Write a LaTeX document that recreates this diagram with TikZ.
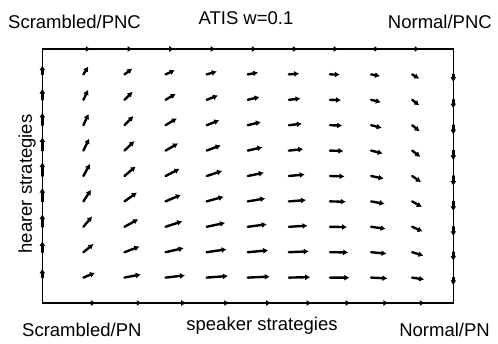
\documentclass[tikz,border=0pt]{standalone}
\usepackage{fontspec}
\setmainfont{Liberation Sans}
\usetikzlibrary{arrows.meta}

\begin{document}
\begin{tikzpicture}[x=1pt,y=1pt,
  frame/.style={line width=1.4pt},
  vec/.style={line width=2.4pt,line cap=round,-{Latex[length=5pt,width=6pt]}},
  lbl/.style={font=\fontsize{18.5}{21}\selectfont,inner sep=0pt}]
  \useasboundingbox[fill=white] (0,0) rectangle (498,343);

  % phase-plane frame (speaker share on x, hearer share on y)
  \draw[frame] (42.3,40) rectangle (453.3,294);

  % replicator field on an 11 x 11 grid
  \foreach \i in {0,...,10}{
    \foreach \j in {0,...,10}{
      \pgfmathsetmacro\p{\i/10}
      \pgfmathsetmacro\q{\j/10}
      \pgfmathsetmacro\u{\p*(1-\p)*(1.53-1.3*\q)}
      \pgfmathsetmacro\v{\q*(1-\q)*(0.68-\p)}
      \pgfmathsetmacro\m{sqrt(\u*\u+\v*\v)}
      \ifdim \m pt > 0.001pt
        \pgfmathsetmacro\L{6.5+44*\m}
        \pgfmathsetmacro\X{42.3+41.1*\i}
        \pgfmathsetmacro\Y{40+25.4*\j}
        \draw[vec] (\X,\Y) -- ++({\L*\u/\m},{\L*\v/\m});
      \fi
    }
  }

  % corner, title and axis labels
  \node[lbl,anchor=west] (sc) at (8,321) {Scrambled/PNC};
  \node[lbl] (title) at (246,325) {ATIS w=0.1};
  \node[lbl,anchor=east] (np) at (492,321) {Normal/PNC};
  \node[lbl,anchor=west] (sp) at (22,13) {Scrambled/PN};
  \node[lbl] (xl) at (262,17) {speaker strategies};
  \node[lbl,anchor=east] (nn) at (490,13) {Normal/PN};
  \node[lbl,rotate=90] (yl) at (27,159) {hearer strategies};
\end{tikzpicture}
\end{document}
